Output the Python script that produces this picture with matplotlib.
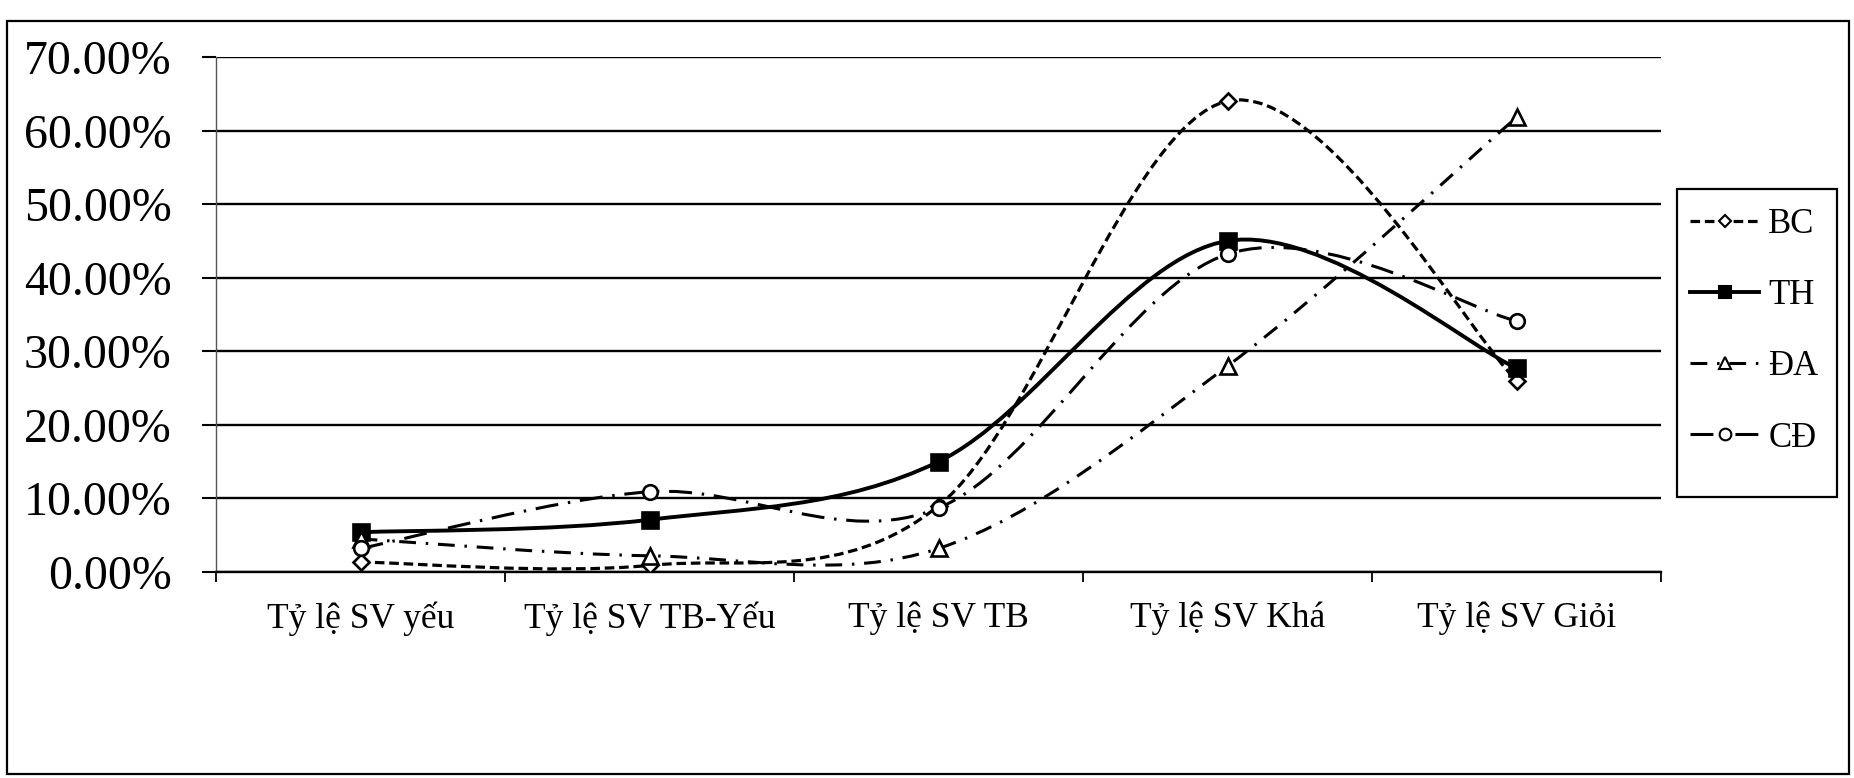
import matplotlib
matplotlib.use('Agg')
import matplotlib.pyplot as plt
from matplotlib.path import Path
from matplotlib.patches import PathPatch, Rectangle
from matplotlib.lines import Line2D
from matplotlib.ticker import FixedLocator, PercentFormatter

plt.rcParams['font.family'] = ['Liberation Serif', 'DejaVu Serif']

categories = ['Tỷ lệ SV yếu', 'Tỷ lệ SV TB-Yếu', 'Tỷ lệ SV TB', 'Tỷ lệ SV Khá', 'Tỷ lệ SV Giỏi']
series_names = ['BC', 'TH', 'ĐA', 'CĐ']
bc = [1.35, 0.9, 9.0, 64.0, 26.0]
th = [5.4, 7.1, 15.0, 45.0, 27.7]
da = [4.5, 2.2, 3.2, 28.0, 61.8]
cd = [3.2, 10.9, 8.7, 43.2, 34.1]
y_ticks = [0, 10, 20, 30, 40, 50, 60, 70]

styles = {
    'BC': dict(ls=(0, (3.0, 1.5)), lw=2.3, marker='D', ms=8, mfc='white'),
    'TH': dict(ls='-', lw=2.8, marker='s', ms=11.5, mfc='black'),
    'ĐA': dict(ls=(0, (5.5, 3.2, 0.8, 3.2)), lw=2.2, marker='^', ms=11, mfc='white'),
    'CĐ': dict(ls=(0, (7.5, 3.2, 0.8, 3.2)), lw=2.2, marker='o', ms=10.5, mfc='white'),
}


def smooth_path(xs, ys):
    # Excel-like smoothed line: Catmull-Rom as cubic bezier segments
    pts = list(zip(xs, ys))
    n = len(pts)
    verts = [pts[0]]
    codes = [Path.MOVETO]
    for i in range(n - 1):
        p0 = pts[i - 1] if i > 0 else pts[i]
        p1 = pts[i]
        p2 = pts[i + 1]
        p3 = pts[i + 2] if i + 2 < n else pts[i + 1]
        c1 = (p1[0] + (p2[0] - p0[0]) / 6, p1[1] + (p2[1] - p0[1]) / 6)
        c2 = (p2[0] - (p3[0] - p1[0]) / 6, p2[1] - (p3[1] - p1[1]) / 6)
        verts += [c1, c2, p2]
        codes += [Path.CURVE4] * 3
    return Path(verts, codes)


fig = plt.figure(figsize=(18.54, 7.78), dpi=100)
ax = fig.add_axes([0.1165, 0.2648, 0.7795, 0.662])

x = list(range(1, len(categories) + 1))
for name, vals in zip(series_names, [bc, th, da, cd]):
    st = styles[name]
    patch = PathPatch(smooth_path(x, vals), fill=False, edgecolor='black',
                      lw=st['lw'], linestyle=st['ls'], capstyle='butt', zorder=3)
    ax.add_patch(patch)
    ax.plot(x, vals, linestyle='none', marker=st['marker'], ms=st['ms'],
            mfc=st['mfc'], mec='black', mew=1.9, zorder=4)

ax.set_xlim(0.5, 5.5)
ax.set_ylim(0, 70)
ax.set_yticks(y_ticks)
ax.yaxis.set_major_formatter(PercentFormatter(decimals=2))
ax.set_xticks(x)
ax.set_xticklabels(categories)
ax.xaxis.set_minor_locator(FixedLocator([0.5, 1.5, 2.5, 3.5, 4.5, 5.5]))
ax.tick_params(axis='x', which='major', length=0, pad=21, labelsize=25.5)
ax.tick_params(axis='x', which='minor', length=7, width=1.3, direction='out')
ax.tick_params(axis='y', length=10, width=1.5, pad=22, labelsize=34.5)

ax.grid(axis='y', color='black', lw=1.7)
ax.set_axisbelow(True)
for s in ['top', 'right']:
    ax.spines[s].set_visible(False)
ax.spines['left'].set_color('#555555')
ax.spines['left'].set_linewidth(1.0)
ax.spines['bottom'].set_linewidth(1.7)

handles = []
for name in series_names:
    st = styles[name]
    handles.append(Line2D([], [], color='black', lw=st['lw'], linestyle=st['ls'],
                          marker=st['marker'], ms=st['ms'] * 0.8, mfc=st['mfc'],
                          mec='black', mew=1.5))
fig.legend(handles, series_names, loc='upper left',
           bbox_to_anchor=(1690 / 1854, 1 - 208 / 778),
           fontsize=25, frameon=False,
           handlelength=2.0, handletextpad=0.25, labelspacing=1.1,
           borderpad=0, borderaxespad=0)

# legend box, taller than its entries as in the source chart
fig.patches.append(Rectangle((1677 / 1854, 1 - 497 / 778), 160 / 1854, 308 / 778,
                             transform=fig.transFigure, fill=False,
                             edgecolor='black', lw=1.6))

# outer chart border
fig.patches.append(Rectangle((7 / 1854, 4 / 778), 1842 / 1854, 753 / 778,
                             transform=fig.transFigure, fill=False,
                             edgecolor='black', lw=1.6))

fig.savefig('out.png', dpi=100)
